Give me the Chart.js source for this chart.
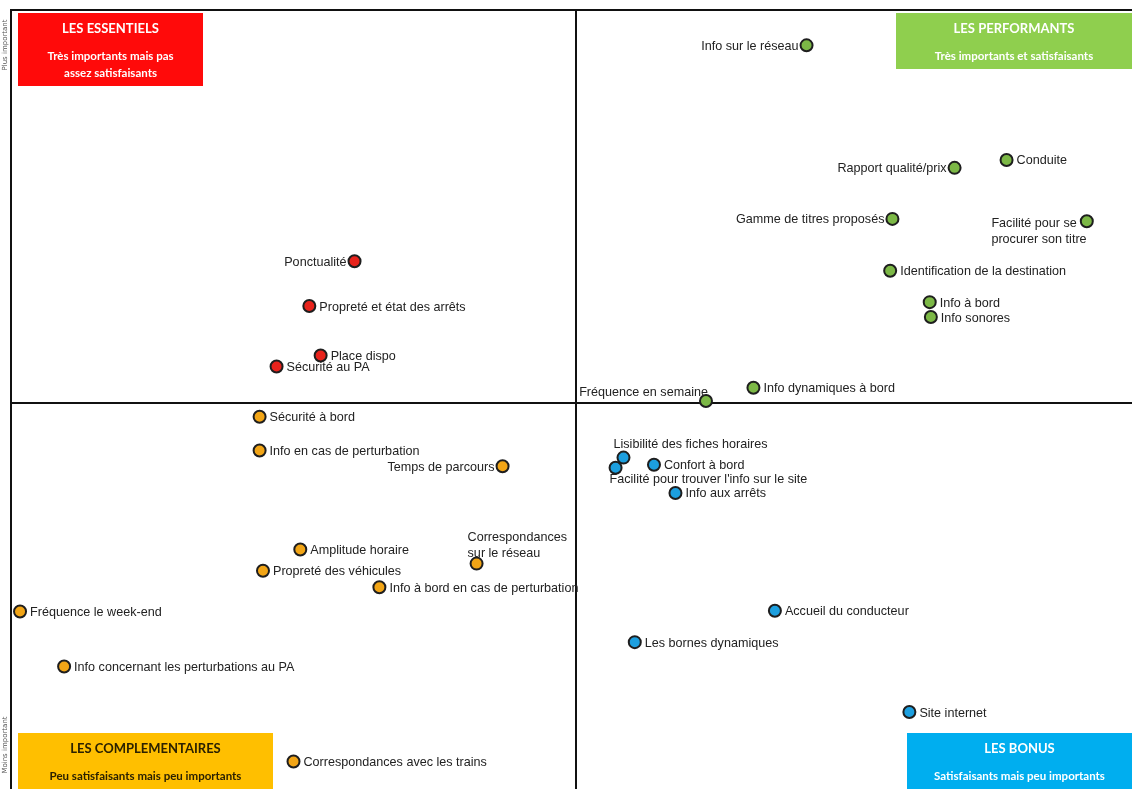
<!DOCTYPE html>
<html lang="fr">
<head>
<meta charset="utf-8">
<title>Matrice importance / satisfaction</title>
<script src="https://cdn.jsdelivr.net/npm/chart.js@4/dist/chart.umd.min.js"></script>
<style>
  html, body { margin: 0; padding: 0; background: #fff; overflow: hidden; }
  #chart { display: block; }
</style>
</head>
<body>
<canvas id="chart" width="1132" height="789"></canvas>
<script>
// Axis split: average satisfaction (x) and average importance (y)
const meanSatisfaction = 50;
const meanImportance = 50;
// Visible window of both scales (the frame is open on the right and bottom)
const satisfactionRange = [0, 99.2];
const importanceRange = [0.8, 100];

// LES ESSENTIELS
const essentielsNames = ["Ponctualité", "Propreté et état des arrêts", "Place dispo", "Sécurité au PA"];
const essentielsSatisfaction = [30.4, 26.4, 27.4, 23.5];
const essentielsImportance = [68.0, 62.3, 56.0, 54.6];
const essentielsPlacement = ["l", "r", "r", "r"];

// LES PERFORMANTS
const performantsNames = ["Info sur le réseau", "Rapport qualité/prix", "Conduite", "Gamme de titres proposés",
  "Facilité pour se\nprocurer son titre", "Identification de la destination", "Info à bord", "Info sonores",
  "Fréquence en semaine", "Info dynamiques à bord"];
const performantsSatisfaction = [70.4, 83.5, 88.1, 78.0, 95.2, 77.8, 81.3, 81.4, 61.5, 65.7];
const performantsImportance = [95.5, 79.9, 80.9, 73.4, 73.1, 66.8, 62.8, 60.9, 50.2, 51.9];
const performantsPlacement = ["l", "l", "r", "l", "ml", "r", "r", "r", "al", "r"];

// LES COMPLEMENTAIRES
const complementairesNames = ["Sécurité à bord", "Info en cas de perturbation", "Temps de parcours", "Amplitude horaire",
  "Propreté des véhicules", "Correspondances\nsur le réseau", "Info à bord en cas de perturbation",
  "Fréquence le week-end", "Info concernant les perturbations au PA", "Correspondances avec les trains"];
const complementairesSatisfaction = [22.0, 22.0, 43.5, 25.6, 22.3, 41.2, 32.6, 0.8, 4.7, 25.0];
const complementairesImportance = [48.2, 43.9, 41.9, 31.3, 28.6, 29.5, 26.5, 23.4, 16.4, 4.3];
const complementairesPlacement = ["r", "r", "l", "r", "r", "ma", "r", "r", "r", "r"];

// LES BONUS
const bonusNames = ["Lisibilité des fiches horaires", "Facilité pour trouver l'info sur le site", "Confort à bord",
  "Info aux arrêts", "Accueil du conducteur", "Les bornes dynamiques", "Site internet"];
const bonusSatisfaction = [54.2, 53.5, 56.9, 58.8, 67.6, 55.2, 79.5];
const bonusImportance = [43.0, 41.7, 42.1, 38.5, 23.5, 19.5, 10.6];
const bonusPlacement = ["a", "b", "r", "r", "r", "r", "r"];

function toPoints(xs, ys) { return xs.map((x, i) => ({ x: x, y: ys[i] })); }

const groups = [
  { names: essentielsNames, placement: essentielsPlacement, color: "#e8231c" },
  { names: performantsNames, placement: performantsPlacement, color: "#7cb846" },
  { names: complementairesNames, placement: complementairesPlacement, color: "#f2a516" },
  { names: bonusNames, placement: bonusPlacement, color: "#1c9fdf" }
];

const datasets = [
  toPoints(essentielsSatisfaction, essentielsImportance),
  toPoints(performantsSatisfaction, performantsImportance),
  toPoints(complementairesSatisfaction, complementairesImportance),
  toPoints(bonusSatisfaction, bonusImportance)
].map((data, i) => ({
  label: ["LES ESSENTIELS", "LES PERFORMANTS", "LES COMPLEMENTAIRES", "LES BONUS"][i],
  data: data,
  backgroundColor: groups[i].color,
  borderColor: "#1e1e1e",
  borderWidth: 2,
  pointRadius: 6,
  pointHoverRadius: 6
}));

// Frame, quadrant split lines and the four quadrant captions
const quadrantPlugin = {
  id: "quadrants",
  beforeDatasetsDraw(chart) {
    const { ctx, chartArea: a, scales } = chart;
    ctx.save();

    const boxes = [
      { x: 18, y: 13, w: 185, h: 73, fill: "#ff0a0a", ink: "#ffffff",
        title: "LES ESSENTIELS", lines: ["Très importants mais pas", "assez satisfaisants"] },
      { x: 896, y: 13, w: 236, h: 56, fill: "#8fcf4e", ink: "#ffffff",
        title: "LES PERFORMANTS", lines: ["Très importants et satisfaisants"] },
      { x: 18, y: 733, w: 255, h: 56, fill: "#ffbf00", ink: "#2b2100",
        title: "LES COMPLEMENTAIRES", lines: ["Peu satisfaisants mais peu importants"] },
      { x: 907, y: 733, w: 225, h: 56, fill: "#00aeef", ink: "#ffffff",
        title: "LES BONUS", lines: ["Satisfaisants mais peu importants"] }
    ];
    ctx.textAlign = "center";
    ctx.textBaseline = "middle";
    boxes.forEach(b => {
      ctx.fillStyle = b.fill;
      ctx.fillRect(b.x, b.y, b.w, b.h);
      const cx = b.x + b.w / 2;
      ctx.fillStyle = b.ink;
      ctx.font = 'bold 13px Lato, "Open Sans", sans-serif';
      ctx.fillText(b.title, cx, b.y + 16);
      ctx.font = 'bold 11.5px Lato, "Open Sans", sans-serif';
      b.lines.forEach((t, k) => ctx.fillText(t, cx, b.y + 43 + k * 17));
    });

    ctx.strokeStyle = "#111";
    ctx.lineWidth = 2;
    ctx.beginPath();
    ctx.moveTo(a.left, chart.height);
    ctx.lineTo(a.left, a.top);
    ctx.lineTo(chart.width, a.top);
    const vx = Math.round(scales.x.getPixelForValue(meanSatisfaction));
    const hy = Math.round(scales.y.getPixelForValue(meanImportance));
    ctx.moveTo(vx, a.top);
    ctx.lineTo(vx, chart.height);
    ctx.moveTo(a.left, hy);
    ctx.lineTo(chart.width, hy);
    ctx.stroke();

    // small vertical axis captions along the left edge
    ctx.fillStyle = "#555";
    ctx.font = '7px "DejaVu Sans", sans-serif';
    ctx.textAlign = "center";
    ctx.save();
    ctx.translate(5, 45);
    ctx.rotate(-Math.PI / 2);
    ctx.fillText("Plus important", 0, 0);
    ctx.restore();
    ctx.save();
    ctx.translate(5, 745);
    ctx.rotate(-Math.PI / 2);
    ctx.fillText("Moins important", 0, 0);
    ctx.restore();

    ctx.restore();
  },
  afterDatasetsDraw(chart) {
    const ctx = chart.ctx;
    ctx.save();
    ctx.font = '12.6px "Liberation Sans", Arial, sans-serif';
    ctx.fillStyle = "#222";
    ctx.textBaseline = "middle";
    groups.forEach((g, di) => {
      const meta = chart.getDatasetMeta(di);
      meta.data.forEach((pt, j) => {
        const lines = g.names[j].split("\n");
        const p = g.placement[j];
        const x = pt.x, y = pt.y;
        if (p === "r") {
          ctx.textAlign = "left";
          ctx.fillText(lines[0], x + 10, y + 1);
        } else if (p === "l") {
          ctx.textAlign = "right";
          ctx.fillText(lines[0], x - 8, y + 1);
        } else if (p === "al") {
          ctx.textAlign = "right";
          ctx.fillText(lines[0], x + 2, y - 9);
        } else if (p === "a") {
          ctx.textAlign = "left";
          ctx.fillText(lines[0], x - 10, y - 13);
        } else if (p === "b") {
          ctx.textAlign = "left";
          ctx.fillText(lines[0], x - 6, y + 12);
        } else if (p === "ml") {
          ctx.textAlign = "left";
          const left = x - 10 - ctx.measureText(lines[0]).width;
          lines.forEach((t, k) => ctx.fillText(t, left, y + 2 + k * 16));
        } else if (p === "ma") {
          ctx.textAlign = "left";
          lines.forEach((t, k) => ctx.fillText(t, x - 9, y - 26 + k * 16));
        }
      });
    });
    ctx.restore();
  }
};

new Chart(document.getElementById("chart"), {
  type: "scatter",
  data: { datasets: datasets },
  options: {
    responsive: false,
    animation: false,
    layout: { autoPadding: false, padding: { left: 11, top: 10, right: 0, bottom: 0 } },
    plugins: { legend: { display: false }, tooltip: { enabled: false } },
    scales: {
      x: { type: "linear", min: satisfactionRange[0], max: satisfactionRange[1], display: false },
      y: { type: "linear", min: importanceRange[0], max: importanceRange[1], display: false }
    }
  },
  plugins: [quadrantPlugin]
});
</script>
</body>
</html>
